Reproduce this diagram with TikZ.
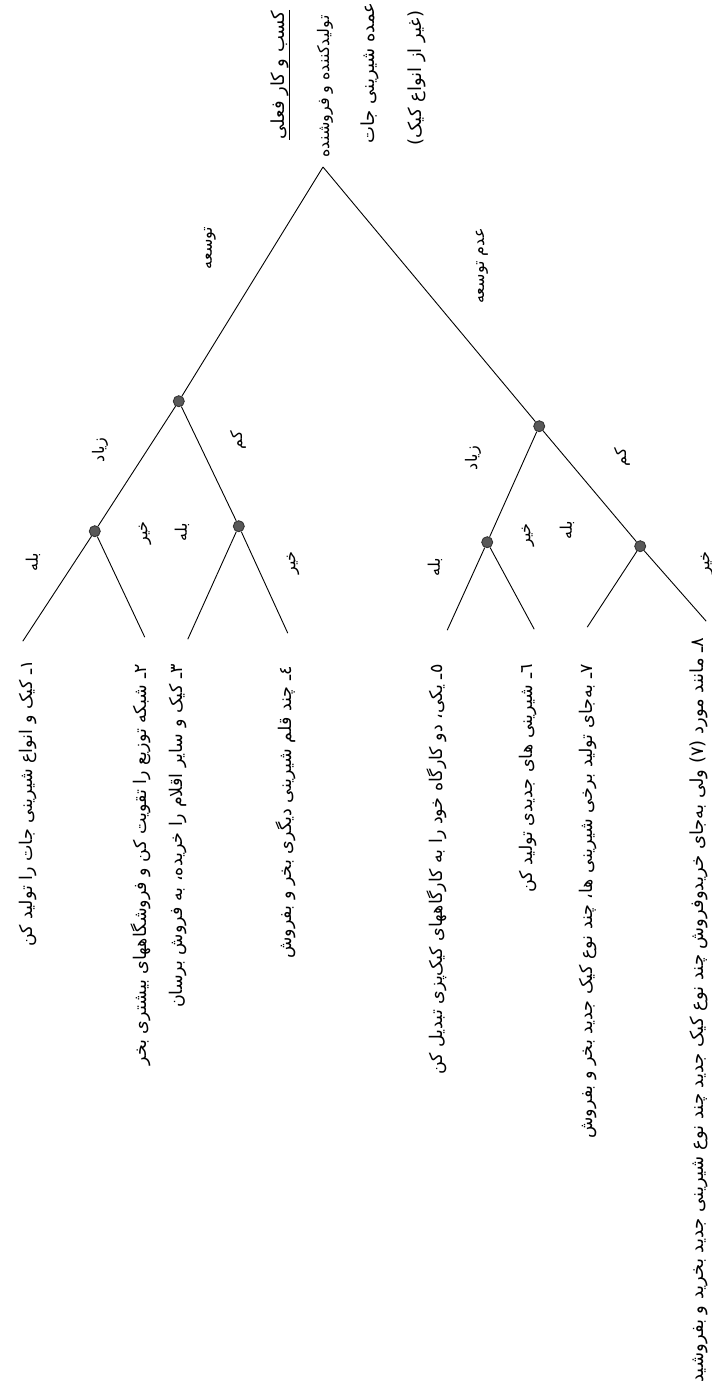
\documentclass[tikz,border=0pt]{standalone}
\usepackage{fontspec}
\newfontfamily\farsi[Script=Arabic]{DejaVu Sans}
\TeXXeTstate=1
\usetikzlibrary{positioning}
\newcommand{\rtltext}[1]{\beginR #1\endR}

\begin{document}
\begin{tikzpicture}[
x=1pt, y=-1pt, on grid,
every path/.style={line width=0.9pt},
dot/.style={circle, draw=black!80, fill=black!65, minimum size=11pt, inner sep=0},
lbl/.style={rotate=90, inner sep=0, font=\farsi\fontsize{16}{18}\selectfont},
head/.style={rotate=90, inner sep=0, font=\farsi\fontsize{18}{20}\selectfont},
item/.style={rotate=90, inner sep=0, anchor=east, font=\farsi\fontsize{17.5}{20}\selectfont}
]
\useasboundingbox (0,0) rectangle (712,1387);

% decision points
\coordinate (R) at (323,167);
\node[dot, below left=230pt and 140pt of R] (A) {};
\node[dot, below right=255pt and 212pt of R] (B) {};
\node[dot, below left=130pt and 84pt of A] (A1) {};
\node[dot, below right=125pt and 60pt of A] (A2) {};
\node[dot, below left=116pt and 52pt of B] (B1) {};
\node[dot, below right=120pt and 101pt of B] (B2) {};

% branch ends
\coordinate[below left=110pt and 72pt of A1] (a1l);
\coordinate[below right=106pt and 50pt of A1] (a1r);
\coordinate[below left=113pt and 51pt of A2] (a2l);
\coordinate[below right=107pt and 49pt of A2] (a2r);
\coordinate[below left=88pt and 40pt of B1] (b1l);
\coordinate[below right=87pt and 47pt of B1] (b1r);
\coordinate[below left=81pt and 53pt of B2] (b2l);
\coordinate[below right=75pt and 66pt of B2] (b2r);

\draw (R) -- (A);
\draw (R) -- (B);
\draw (A) -- (A1);
\draw (A) -- (A2);
\draw (B) -- (B1);
\draw (B) -- (B2);
\draw (A1) -- (a1l);
\draw (A1) -- (a1r);
\draw (A2) -- (a2l);
\draw (A2) -- (a2r);
\draw (B1) -- (b1l);
\draw (B1) -- (b1r);
\draw (B2) -- (b2l);
\draw (B2) -- (b2r);

% heading
\node[head] (t1) at (280,75) {\rtltext{کسب و کار فعلی}};
\draw (t1.south east) -- (t1.south west);
\node[head, anchor=west, font=\farsi\fontsize{16}{18}\selectfont] (t2) at (325,158) {\rtltext{تولیدکننده و فروشنده}};
\node[head] (t3) at (370,73) {\rtltext{عمده شیرینی جات}};
\node[head] (t4) at (417,78) {\rtltext{(غیر از انواع کیک)}};

% branch labels
\node[lbl] (l1) at (210,248) {\rtltext{توسعه}};
\node[lbl] (l2) at (482,266) {\rtltext{عدم توسعه}};
\node[lbl] (l3) at (100,450) {\rtltext{زیاد}};
\node[lbl] (l4) at (238,440) {\rtltext{کم}};
\node[lbl] (l5) at (473,458) {\rtltext{زیاد}};
\node[lbl] (l6) at (622,457) {\rtltext{کم}};
\node[lbl] (l7) at (33,562) {\rtltext{بله}};
\node[lbl] (l8) at (145,533) {\rtltext{خیر}};
\node[lbl] (l9) at (182,532) {\rtltext{بله}};
\node[lbl] (l10) at (293,563) {\rtltext{خیر}};
\node[lbl] (l11) at (435,567) {\rtltext{بله}};
\node[lbl] (l12) at (528,535) {\rtltext{خیر}};
\node[lbl] (l13) at (567,530) {\rtltext{بله}};
\node[lbl] (l14) at (707,563) {\rtltext{خیر}};

% outcomes
\node[item] (o1) at (28,660) {\rtltext{١ـ کیک و انواع شیرینی جات را تولید کن}};
\node[item] (o2) at (141,664) {\rtltext{٢ـ شبکه توزیع را تقویت کن و فروشگاههای بیشتری بخر}};
\node[item] (o3) at (178,664) {\rtltext{٣ـ کیک و سایر اقلام را خریده، به فروش برسان}};
\node[item] (o4) at (286,666) {\rtltext{٤ـ چند قلم شیرینی دیگری بخر و بفروش}};
\node[item] (o5) at (437,664) {\rtltext{٥ـ یکی، دو کارگاه خود را به کارگاههای کیک‌پزی تبدیل کن}};
\node[item] (o6) at (528,664) {\rtltext{٦ـ شیرینی های جدیدی تولید کن}};
\node[item] (o7) at (588,664) {\rtltext{٧ـ به‌جای تولید برخی شیرینی ها، چند نوع کیک جدید بخر و بفروش}};
\node[item, font=\farsi\fontsize{18}{20}\selectfont] (o8) at (699,637) {\rtltext{٨ـ مانند مورد (٧) ولی به‌جای خریدوفروش چند نوع کیک جدید چند نوع شیرینی جدید بخرید و بفروشید}};
\end{tikzpicture}
\end{document}
